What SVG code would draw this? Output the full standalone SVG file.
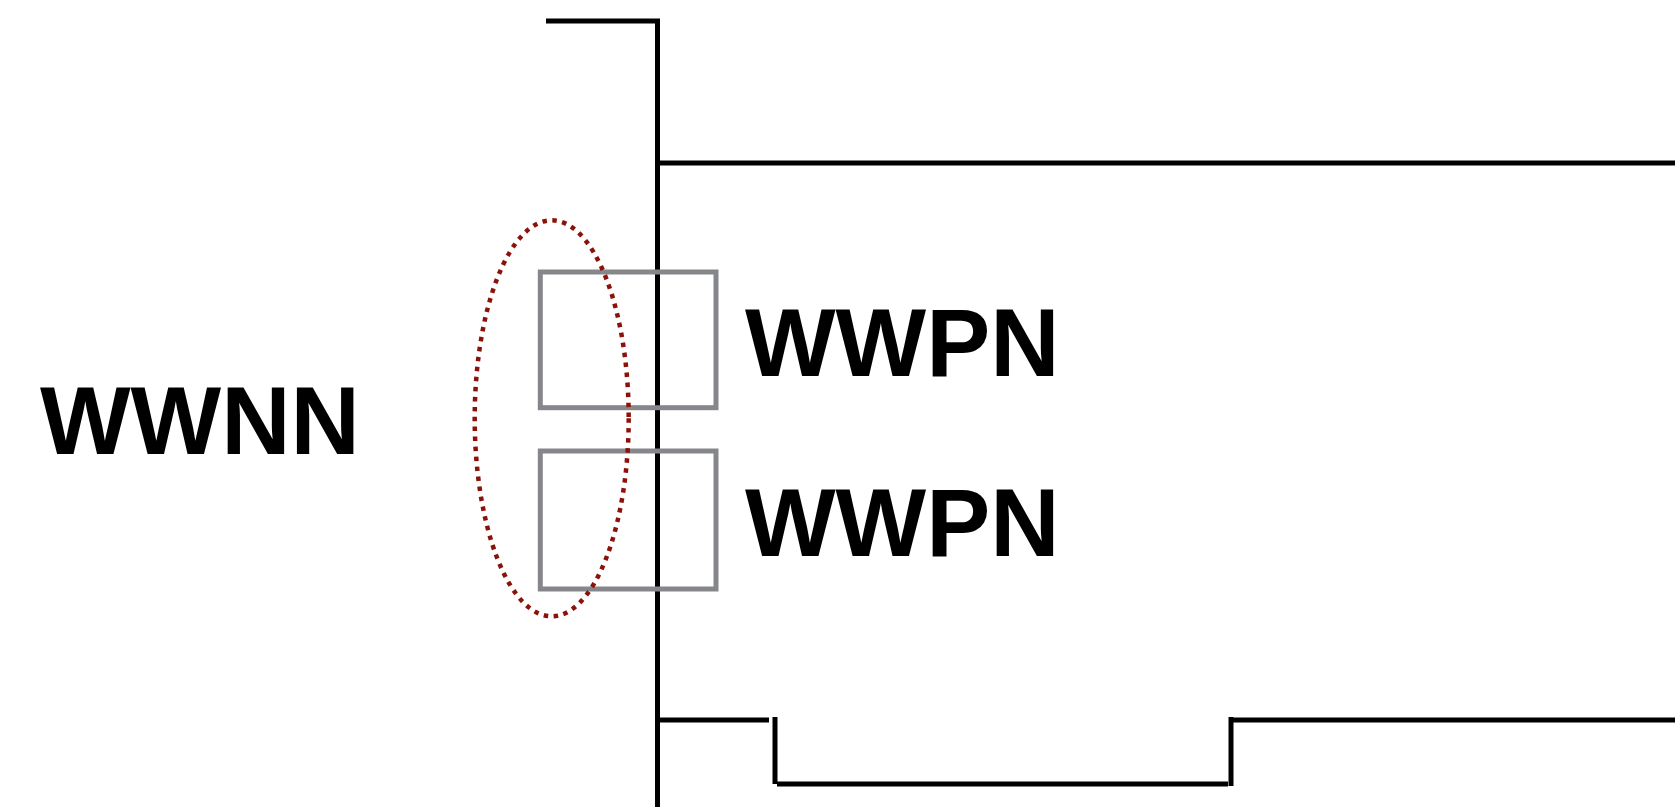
<svg xmlns="http://www.w3.org/2000/svg" width="1675" height="807" viewBox="0 0 1675 807">
<style>
.ln{stroke:#000;stroke-width:5;fill:none}
.box{stroke:#86878b;stroke-width:5;fill:none}
.lbl{font-family:"Liberation Sans",Arial,sans-serif;font-weight:bold;font-size:96px;fill:#000}
</style>
<rect width="1675" height="807" fill="#fff"/>
<g id="connectors">
<polyline class="ln" points="546,21 657.5,21 657.5,807"/>
<line class="ln" x1="660" y1="163" x2="1675" y2="163"/>
<line class="ln" x1="660" y1="720" x2="769" y2="720"/>
<line class="ln" x1="775" y1="717" x2="775" y2="784"/>
<line class="ln" x1="777" y1="784" x2="1228" y2="784"/>
<line class="ln" x1="1231" y1="717" x2="1231" y2="786"/>
<line class="ln" x1="1233" y1="720" x2="1675" y2="720"/>
</g>
<g id="box1"><rect class="box" x="540.3" y="272" width="175.7" height="135.7"/></g>
<g id="box2"><rect class="box" x="540.3" y="451" width="175.7" height="138"/></g>
<g id="group-ellipse"><ellipse cx="551.7" cy="418.3" rx="77" ry="198" fill="none" stroke="#8b1209" stroke-width="4.5" stroke-dasharray="4.5,5.5"/></g>
<g id="wwnn"><text class="lbl" x="40" y="454">WWNN</text></g>
<g id="wwpn1"><text class="lbl" x="745" y="376">WWPN</text></g>
<g id="wwpn2"><text class="lbl" x="745" y="556">WWPN</text></g>
</svg>
